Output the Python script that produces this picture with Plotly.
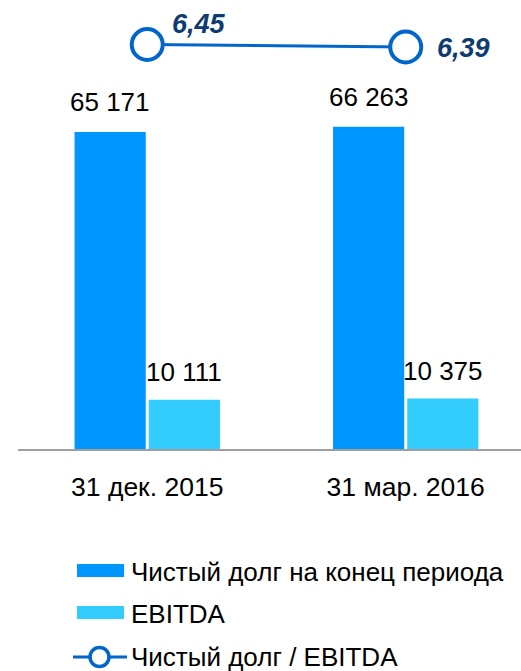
import plotly.graph_objects as go

categories = ["31 дек. 2015", "31 мар. 2016"]
net_debt = [65171, 66263]
ebitda = [10111, 10375]
ratio = [6.45, 6.39]
net_debt_labels = ["65 171", "66 263"]
ebitda_labels = ["10 111", "10 375"]
ratio_labels = ["6,45", "6,39"]
legend_names = ["Чистый долг на конец периода", "EBITDA", "Чистый долг / EBITDA"]

W, H = 521, 671
ML, MR, MT, MB = 18, 0, 0, 222
PW, PH = W - ML - MR, H - MT - MB

FONT = "Liberation Sans, Arial, sans-serif"
C_DEBT = "#0096FF"
C_EBITDA = "#33CCFF"
C_LINE = "#0066CC"
C_LBL = "#0D3B72"


def px(x):
    return (x - ML) / PW


def py(y):
    return (MT + PH - y) / PH


fig = go.Figure()
fig.add_trace(go.Bar(x=categories, y=net_debt, name=legend_names[0],
                     marker=dict(color=C_DEBT, line=dict(width=0))))
fig.add_trace(go.Bar(x=categories, y=ebitda, name=legend_names[1],
                     marker=dict(color=C_EBITDA, line=dict(width=0))))
fig.add_trace(go.Scatter(x=categories, y=ratio, name=legend_names[2], yaxis="y2",
                         mode="lines+markers",
                         line=dict(color=C_LINE, width=3),
                         marker=dict(size=31, color="white",
                                     line=dict(color=C_LINE, width=4)),
                         cliponaxis=False))

ann = []
for i, c in enumerate(categories):
    ann.append(dict(x=c, y=net_debt[i], text=net_debt_labels[i], xref="x", yref="y",
                    xshift=-37, yshift=13, yanchor="bottom", showarrow=False,
                    font=dict(size=26, color="black", family=FONT)))
    ann.append(dict(x=c, y=ebitda[i], text=ebitda_labels[i], xref="x", yref="y",
                    xshift=37, yshift=11, yanchor="bottom", showarrow=False,
                    font=dict(size=26, color="black", family=FONT)))

ratio_shifts = [(52, 21), (58, -1)]
for i, c in enumerate(categories):
    ann.append(dict(x=c, y=ratio[i], text="<b><i>%s</i></b>" % ratio_labels[i],
                    xref="x", yref="y2", xshift=ratio_shifts[i][0],
                    yshift=ratio_shifts[i][1], showarrow=False,
                    font=dict(size=27, color=C_LBL, family=FONT)))

# legend (drawn manually to match swatch shapes)
shapes = []
rows = [572, 614, 657]
shapes.append(dict(type="rect", xref="paper", yref="paper",
                   x0=px(77), x1=px(124), y0=py(564), y1=py(577),
                   fillcolor=C_DEBT, line=dict(width=0)))
shapes.append(dict(type="rect", xref="paper", yref="paper",
                   x0=px(77), x1=px(124), y0=py(606), y1=py(619),
                   fillcolor=C_EBITDA, line=dict(width=0)))
shapes.append(dict(type="line", xref="paper", yref="paper",
                   x0=px(73), x1=px(127), y0=py(657), y1=py(657),
                   line=dict(color=C_LINE, width=3)))
shapes.append(dict(type="circle", xref="paper", yref="paper",
                   x0=px(90), x1=px(109), y0=py(647.5), y1=py(666.5),
                   fillcolor="white", line=dict(color=C_LINE, width=3.5)))
for i, name in enumerate(legend_names):
    ann.append(dict(x=px(129), y=py(rows[i]), xref="paper", yref="paper",
                    text=name, xanchor="left", yanchor="middle", showarrow=False,
                    font=dict(size=26, color="black", family=FONT)))

fig.update_layout(
    width=W, height=H,
    margin=dict(l=ML, r=MR, t=MT, b=MB, pad=0),
    paper_bgcolor="white", plot_bgcolor="white",
    barmode="group", bargap=0.426, bargroupgap=0.0405,
    showlegend=False,
    font=dict(family=FONT, size=26, color="black"),
    xaxis=dict(type="category", range=[-0.5, 1.446], showgrid=False, zeroline=False,
               showline=True, linecolor="#9E9E9E", linewidth=2, ticks="",
               tickfont=dict(size=26.5, color="black", family=FONT),
               ticklabelstandoff=13),
    yaxis=dict(range=[0, 92310], visible=False, showgrid=False, zeroline=False),
    yaxis2=dict(range=[-3.25, 7.517], overlaying="y", visible=False,
                showgrid=False, zeroline=False),
    annotations=ann,
    shapes=shapes,
)

fig.write_html("out.html", config={"displayModeBar": False},
               post_script="document.body.style.margin='0';")
